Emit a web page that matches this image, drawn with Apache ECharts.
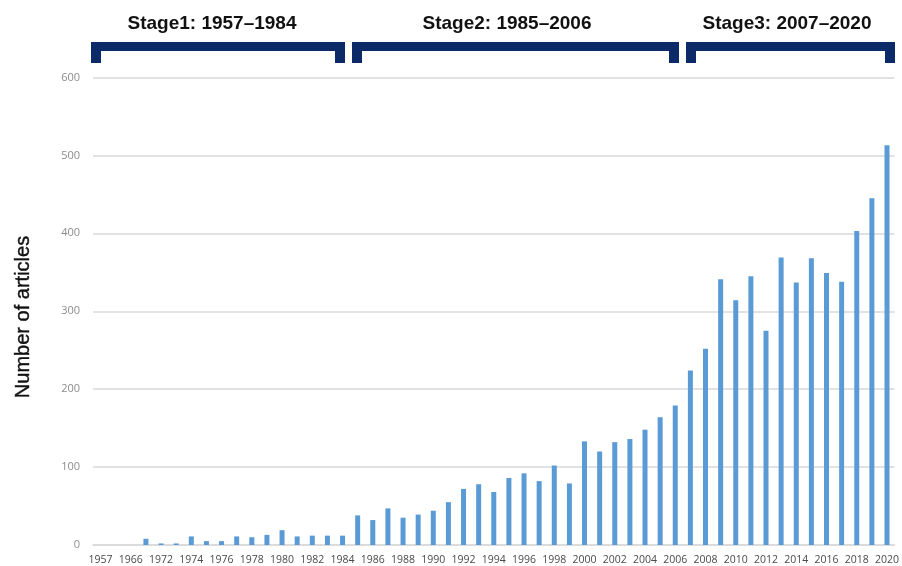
<!DOCTYPE html>
<html>
<head>
<meta charset="utf-8">
<script src="https://cdn.jsdelivr.net/npm/echarts@6/dist/echarts.min.js"></script>
<style>
html,body{margin:0;padding:0;background:#fff;}
#chart{width:902px;height:566px;}
</style>
</head>
<body>
<div id="chart"></div>
<script>
const years = ['1957','1963','1966','1971','1972','1973','1974','1975','1976','1977','1978','1979','1980','1981','1982','1983','1984',
  '1985','1986','1987','1988','1989','1990','1991','1992','1993','1994','1995','1996','1997','1998','1999','2000',
  '2001','2002','2003','2004','2005','2006','2007','2008','2009','2010','2011','2012','2013','2014','2015','2016','2017','2018','2019','2020'];
const articles = [0,0,0,8,2,2,11,5,5,11,10,13,19,11,12,12,12,
  38,32,47,35,39,44,55,72,78,68,86,92,82,102,79,133,
  120,132,136,148,164,179,224,252,341,314,345,275,369,337,368,349,338,403,445,513];
const yTicks = [0,100,200,300,400,500,600];
const stages = [
  {label:'Stage1: 1957\u20131984', x0:91, x1:345, tx:212},
  {label:'Stage2: 1985\u20132006', x0:352, x1:679, tx:507},
  {label:'Stage3: 2007\u20132020', x0:686, x1:895, tx:787}
];

const navy = '#0c2a68';
const graphics = [];
stages.forEach(s => {
  graphics.push({type:'rect', shape:{x:s.x0, y:42, width:s.x1-s.x0, height:9}, style:{fill:navy}});
  graphics.push({type:'rect', shape:{x:s.x0, y:42, width:10, height:21}, style:{fill:navy}});
  graphics.push({type:'rect', shape:{x:s.x1-10, y:42, width:10, height:21}, style:{fill:navy}});
  graphics.push({type:'text', x:s.tx, y:24, style:{text:s.label, fill:'#111', font:'bold 19px "Liberation Sans", Arial, sans-serif', textAlign:'center', textVerticalAlign:'middle'}});
});
graphics.push({type:'text', x:23, y:317, rotation:Math.PI/2, style:{text:'Number of articles', fill:'#111', stroke:'#111', lineWidth:0.4, font:'20px "Liberation Sans", Arial, sans-serif', textAlign:'center', textVerticalAlign:'middle'}});

const chart = echarts.init(document.getElementById('chart'), null, {renderer:'canvas'});
chart.setOption({
  animation:false,
  backgroundColor:'#fff',
  grid:{left:93, right:6.5, top:77.5, bottom:19.5, containLabel:false},
  xAxis:{
    type:'category', data:years,
    axisTick:{show:false},
    axisLine:{lineStyle:{color:'#d9d9d9', width:1.5}},
    axisLabel:{interval:1, color:'#4a4a4a', fontSize:10.5, margin:10, fontFamily:'"Open Sans", "Liberation Sans", sans-serif'}
  },
  yAxis:{
    type:'value', min:yTicks[0], max:yTicks[yTicks.length-1], interval:100,
    axisLine:{show:false}, axisTick:{show:false},
    splitLine:{lineStyle:{color:'#d9d9d9', width:1.5}},
    axisLabel:{color:'#8c8c8c', fontSize:11, margin:13, fontFamily:'"Open Sans", "Liberation Sans", sans-serif'}
  },
  series:[{type:'bar', data:articles, barWidth:5, itemStyle:{color:'#5b9bd5'}}],
  graphic:graphics
});
</script>
</body>
</html>
